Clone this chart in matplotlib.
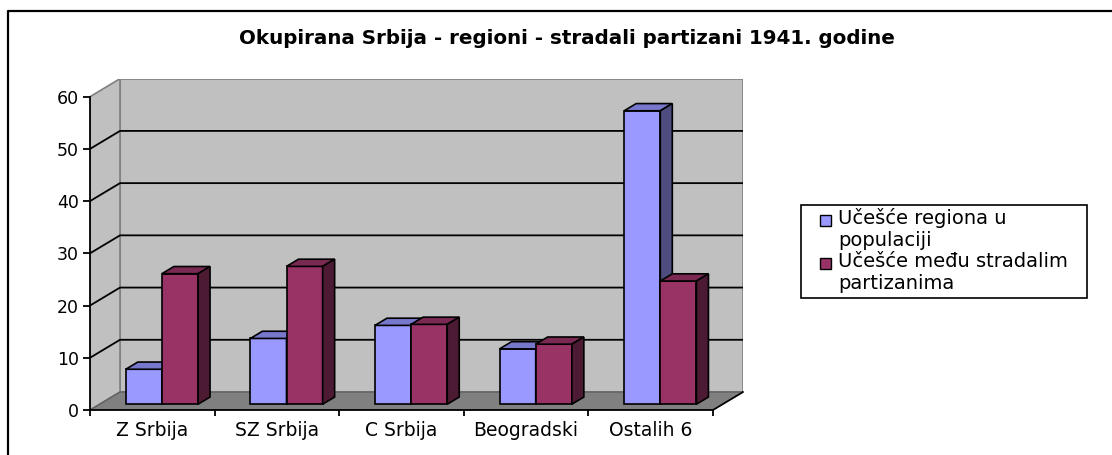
import matplotlib.pyplot as plt
import matplotlib.transforms as mtransforms
from matplotlib.patches import Polygon, Rectangle
from matplotlib.lines import Line2D

plt.rcParams['font.family'] = ['DejaVu Sans']

title = "Okupirana Srbija - regioni - stradali partizani 1941. godine"
categories = ["Z Srbija", "SZ Srbija", "C Srbija", "Beogradski", "Ostalih 6"]
populacija = [6.7, 12.6, 15.1, 10.6, 56.2]
stradali = [25.0, 26.4, 15.3, 11.5, 23.6]
series_names = ["Učešće regiona u\npopulaciji", "Učešće među stradalim\npartizanima"]
yticks = [0, 10, 20, 30, 40, 50, 60]

W, H = 1112, 455
fig = plt.figure(figsize=(W / 100, H / 100), dpi=100)
# pixel coords (y down) for the figure level decorations
pix = mtransforms.Affine2D().scale(1 / W, -1 / H).translate(0, 1) + fig.transFigure

n = len(categories)
ymax = yticks[-1]
DX, DY = 0.2408, 3.447          # depth of the back wall, in data units

ax = fig.add_axes([90 / W, 1 - 410 / H, (743 - 90) / W, (410 - 78.7) / H])
ax.set_xlim(0, n + DX)
ax.set_ylim(0, ymax + DY)
ax.patch.set_visible(False)

# walls and floor
wall_c, floor_c = '#C0C0C0', '#808080'
ax.add_patch(Polygon([(DX, DY), (n + DX, DY), (n + DX, ymax + DY), (DX, ymax + DY)],
                     fc=wall_c, ec='#808080', lw=1.2, zorder=1))
ax.add_patch(Polygon([(0, 0), (DX, DY), (DX, ymax + DY), (0, ymax)],
                     fc=wall_c, ec='#808080', lw=1.2, zorder=1))
ax.add_patch(Polygon([(0, 0), (n, 0), (n + DX, DY), (DX, DY)],
                     fc=floor_c, ec='#606060', lw=1, zorder=1.2))
for v in yticks[1:-1]:
    ax.plot([0, DX, n + DX], [v, v + DY, v + DY], color='black', lw=1.3, zorder=1.5)
ax.plot([n, n + DX], [0, DY], color='black', lw=1.2, zorder=1.5, clip_on=False)

# bars
BX, BY = 0.32 * DX, 0.32 * DY   # front face of the bars
bdx, bdy = 0.4 * DX, 0.4 * DY   # bar depth
gap, bw = 0.21, 0.29
series = [(populacija, '#9999FF', '#7777CC', '#4D4D80'),
          (stradali, '#993366', '#7A2952', '#4D1A33')]
zo = 3
for i in range(n):
    for k, (vals, cf, ct, cs) in enumerate(series):
        x0 = i + BX + gap + k * bw
        y0 = BY
        v = vals[i]
        ax.bar(x0, v, width=bw, bottom=y0, align='edge', color=cf,
               ec='black', lw=1.2, zorder=zo)
        ax.add_patch(Polygon([(x0, y0 + v), (x0 + bw, y0 + v), (x0 + bw + bdx, y0 + v + bdy),
                              (x0 + bdx, y0 + v + bdy)], fc=ct, ec='black', lw=1.2, zorder=zo))
        ax.add_patch(Polygon([(x0 + bw, y0), (x0 + bw + bdx, y0 + bdy), (x0 + bw + bdx, y0 + v + bdy),
                              (x0 + bw, y0 + v)], fc=cs, ec='black', lw=1.2, zorder=zo))
        zo += 1

# axes lines and ticks
for s in ['top', 'right']:
    ax.spines[s].set_visible(False)
ax.spines['left'].set_bounds(0, ymax)
ax.spines['bottom'].set_bounds(0, n)
for s in ['left', 'bottom']:
    ax.spines[s].set_linewidth(1.3)
    ax.spines[s].set_zorder(20)
ax.set_yticks(yticks)
ax.tick_params(axis='y', length=5, width=1.3, labelsize=12.5, pad=3)
ax.set_xticks(range(n + 1))
ax.set_xticklabels([])
ax.tick_params(axis='x', which='major', length=4, width=1.3)
ax.set_xticks([i + 0.5 for i in range(n)], categories, minor=True)
ax.tick_params(axis='x', which='minor', length=0, labelsize=13.5, pad=8)

# title
fig.text(567, 43.5, title, transform=pix, ha='center', va='baseline',
         fontsize=14.3, fontweight='bold')

# border
fig.add_artist(Line2D([8, 8, W], [H, 10.5, 10.5], transform=pix, color='black', lw=1.6))

# legend
fig.add_artist(Rectangle((800.7, 205), 286, 93.3, transform=pix, fc='white', ec='black', lw=1.2))
line_h = 21.7
colors = ['#9999FF', '#993366']
row = 0
for name, c in zip(series_names, colors):
    lines = name.split('\n')
    base = 224 + row * line_h
    fig.add_artist(Rectangle((820, base - 9), 10.5, 10.5, transform=pix, fc=c, ec='black', lw=1))
    for j, ln in enumerate(lines):
        fig.text(838, base + j * line_h, ln, transform=pix, ha='left', va='baseline', fontsize=14)
    row += len(lines)

fig.savefig('out.png', dpi=100)
